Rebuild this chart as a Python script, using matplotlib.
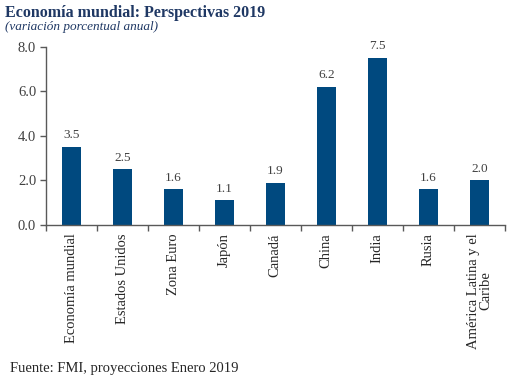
import matplotlib
matplotlib.use("Agg")
import matplotlib.pyplot as plt
import numpy as np
from matplotlib.ticker import FixedLocator

categories = ["Economía mundial", "Estados Unidos", "Zona Euro", "Japón", "Canadá",
              "China", "India", "Rusia", "América Latina y el\nCaribe"]
values = [3.5, 2.5, 1.6, 1.1, 1.9, 6.2, 7.5, 1.6, 2.0]
yticks = [0.0, 2.0, 4.0, 6.0, 8.0]

plt.rcParams['font.family'] = ['Liberation Serif', 'DejaVu Serif']

fig = plt.figure(figsize=(5.21, 3.87), dpi=100)
ax = fig.add_axes([0.088, 0.419, 0.881, 0.46])

x = np.arange(len(categories))
bars = ax.bar(x, values, width=0.38, color='#00497f', zorder=2)
for xi, v in zip(x, values):
    ax.text(xi, v + 0.25, f"{v:.1f}", ha='center', va='bottom', fontsize=9.5, color='#404040')

ax.set_xlim(-0.5, len(categories) - 0.5)
ax.set_ylim(0, 8)
ax.set_yticks(yticks)
ax.set_yticklabels([f"{t:.1f}" for t in yticks], fontsize=10.5, color='#404040')
ax.set_xticks(x)
ax.set_xticklabels(categories, rotation=90, fontsize=10.5, color='#262626', va='top', ha='center',
                   linespacing=0.95)
ax.tick_params(axis='x', which='major', length=0, pad=6)
ax.xaxis.set_minor_locator(FixedLocator(np.arange(-0.5, len(categories), 1.0)))
ax.tick_params(axis='x', which='minor', length=4, direction='out', color='#595959', width=1)
ax.tick_params(axis='y', length=4, direction='out', color='#595959', width=1, pad=3)

for s in ['top', 'right']:
    ax.spines[s].set_visible(False)
for s in ['left', 'bottom']:
    ax.spines[s].set_color('#595959')
    ax.spines[s].set_linewidth(1)

fig.text(0.01, 0.988, "Economía mundial: Perspectivas 2019", fontsize=11.5, fontweight='bold',
         color='#1f3864', ha='left', va='top')
fig.text(0.01, 0.945, "(variación porcentual anual)", fontsize=9.5, fontstyle='italic',
         color='#1f3864', ha='left', va='top')
fig.text(0.02, 0.03, "Fuente: FMI, proyecciones Enero 2019", fontsize=10.5, color='#262626',
         ha='left', va='bottom')

fig.savefig("out.png", dpi=100)
